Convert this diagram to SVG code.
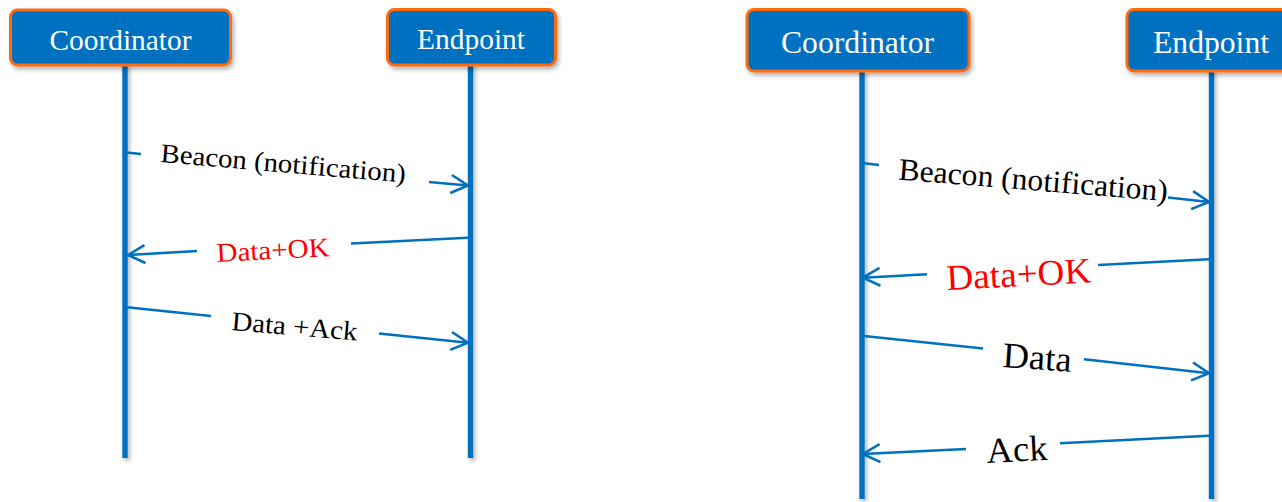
<svg xmlns="http://www.w3.org/2000/svg" width="1282" height="502" viewBox="0 0 1282 502">
<style>
.box{fill:#0070C0;stroke:#FF6A10;stroke-width:3}
.life{fill:#0070C0}
.hdr{font-family:"Liberation Serif","Times New Roman",serif;fill:#ffffff;text-anchor:middle}
.msg{font-family:"Liberation Serif","Times New Roman",serif;fill:#000000}
.red{fill:#FF0000}
.arr{stroke:#0070C0;stroke-width:2.6;fill:none}
</style>
<defs>
<filter id="sh" filterUnits="userSpaceOnUse" x="0" y="0" width="1282" height="502">
<feDropShadow dx="2" dy="3" stdDeviation="2" flood-color="#000" flood-opacity="0.3"/>
</filter>
<marker id="ah" markerUnits="userSpaceOnUse" markerWidth="24" markerHeight="24" viewBox="-20 -12 24 24" refX="0" refY="0" orient="auto">
<path d="M -17 -9 L 0 0 L -17 9" fill="none" stroke="#0070C0" stroke-width="2.6"/>
</marker>
</defs>
<rect width="1282" height="502" fill="#ffffff"/>
<g id="left-coordinator">
<rect class="life" x="122.3" y="64" width="5.4" height="394" filter="url(#sh)"/>
<rect class="box" x="10.5" y="10" width="220" height="55" rx="7" filter="url(#sh)"/>
<text class="hdr" x="120.5" y="50" font-size="29" textLength="142" lengthAdjust="spacingAndGlyphs">Coordinator</text>
</g>
<g id="left-endpoint">
<rect class="life" x="467.8" y="64" width="5.4" height="394" filter="url(#sh)"/>
<rect class="box" x="387.5" y="9.5" width="168" height="55.5" rx="7" filter="url(#sh)"/>
<text class="hdr" x="471" y="49" font-size="29" textLength="108" lengthAdjust="spacingAndGlyphs">Endpoint</text>
</g>
<g id="right-coordinator">
<rect class="life" x="859.3" y="70" width="5.4" height="429" filter="url(#sh)"/>
<rect class="box" x="747" y="9.5" width="222" height="61.5" rx="7" filter="url(#sh)"/>
<text class="hdr" x="857.5" y="53" font-size="32" textLength="153" lengthAdjust="spacingAndGlyphs">Coordinator</text>
</g>
<g id="right-endpoint">
<rect class="life" x="1208.8" y="70" width="5.4" height="429" filter="url(#sh)"/>
<rect class="box" x="1127" y="9.5" width="170" height="61.5" rx="7" filter="url(#sh)"/>
<text class="hdr" x="1211" y="53" font-size="32" textLength="116" lengthAdjust="spacingAndGlyphs">Endpoint</text>
</g>
<g id="connectors">
<line class="arr" x1="126" y1="152.5" x2="141" y2="154"/>
<line class="arr" x1="429" y1="182" x2="468" y2="185.5" marker-end="url(#ah)"/>
<line class="arr" x1="468" y1="237.7" x2="351" y2="243.5"/>
<line class="arr" x1="197" y1="251" x2="128" y2="255" marker-end="url(#ah)"/>
<line class="arr" x1="127" y1="307.3" x2="211" y2="316"/>
<line class="arr" x1="379" y1="333.5" x2="468" y2="342.7" marker-end="url(#ah)"/>
<line class="arr" x1="864" y1="163.3" x2="879" y2="165"/>
<line class="arr" x1="1168" y1="197.5" x2="1209" y2="202" marker-end="url(#ah)"/>
<line class="arr" x1="1209" y1="259.3" x2="1098" y2="265"/>
<line class="arr" x1="927" y1="274.3" x2="863" y2="277.7" marker-end="url(#ah)"/>
<line class="arr" x1="864" y1="336" x2="983" y2="348.5"/>
<line class="arr" x1="1084" y1="359.3" x2="1209" y2="373.3" marker-end="url(#ah)"/>
<line class="arr" x1="1209" y1="435.7" x2="1060" y2="443.3"/>
<line class="arr" x1="966" y1="449" x2="863" y2="454" marker-end="url(#ah)"/>
</g>
<g id="labels">
<text class="msg" x="160" y="162" font-size="27" transform="rotate(4.8 160 162)" textLength="246" lengthAdjust="spacingAndGlyphs">Beacon (notification)</text>
<text class="msg red" x="217" y="262" font-size="27" transform="rotate(-3 217 262)" textLength="113" lengthAdjust="spacingAndGlyphs">Data+OK</text>
<text class="msg" x="231" y="330" font-size="27" transform="rotate(4.8 231 330)" textLength="126" lengthAdjust="spacingAndGlyphs">Data +Ack</text>
<text class="msg" x="898" y="179.5" font-size="31" transform="rotate(4.6 898 179.5)" textLength="270" lengthAdjust="spacingAndGlyphs">Beacon (notification)</text>
<text class="msg red" x="947" y="290" font-size="36" transform="rotate(-3 947 290)" textLength="145" lengthAdjust="spacingAndGlyphs">Data+OK</text>
<text class="msg" x="1002" y="367" font-size="36" transform="rotate(4 1002 367)" textLength="69" lengthAdjust="spacingAndGlyphs">Data</text>
<text class="msg" x="987" y="463" font-size="36" transform="rotate(-3 987 463)" textLength="61" lengthAdjust="spacingAndGlyphs">Ack</text>
</g>
</svg>
